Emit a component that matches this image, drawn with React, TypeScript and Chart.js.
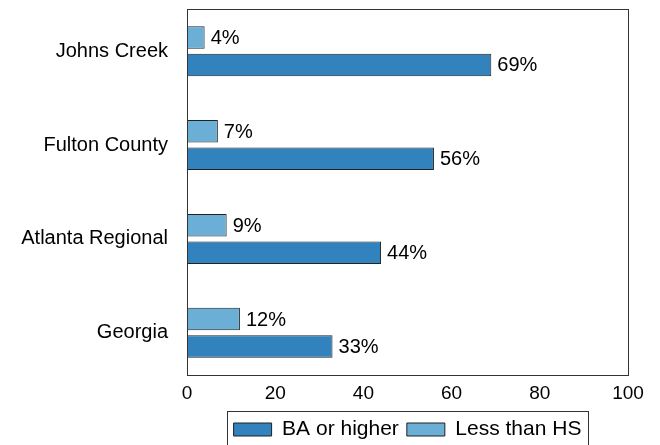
import React, { useEffect, useRef } from 'react';
import { Chart, registerables } from 'chart.js';

Chart.register(...registerables);

const categories = ['Johns Creek', 'Fulton County', 'Atlanta Regional', 'Georgia'];
const baOrHigher = [69, 56, 44, 33];
const lessThanHS = [4, 7, 9, 12];
const seriesNames = ['BA or higher', 'Less than HS'];
const xMin = 0;
const xMax = 100;
const xStep = 20;

const FONT = "'Liberation Sans', Arial, sans-serif";

const frameAndLabels = {
  id: 'frameAndLabels',
  afterDatasetsDraw(chart: any) {
    const { ctx, chartArea } = chart;
    ctx.save();
    ctx.font = `20px ${FONT}`;
    ctx.fillStyle = '#000';
    ctx.textAlign = 'left';
    ctx.textBaseline = 'middle';
    chart.data.datasets.forEach((ds: any, di: number) => {
      const meta = chart.getDatasetMeta(di);
      meta.data.forEach((el: any, i: number) => {
        const v = ds.data[i].x;
        ctx.fillText(`${v}%`, el.x + 6, el.y + 1);
      });
    });
    ctx.strokeStyle = '#333';
    ctx.lineWidth = 1;
    const l = Math.round(chartArea.left) + 0.5;
    const t = Math.round(chartArea.top) + 0.5;
    const r = Math.round(chartArea.right) + 0.5;
    const b = Math.round(chartArea.bottom) + 0.5;
    ctx.strokeRect(l, t, r - l, b - t);
    ctx.restore();
  },
  afterDraw(chart: any) {
    const lg = chart.legend;
    if (!lg || !lg.legendHitBoxes || !lg.legendHitBoxes.length) return;
    const hb = lg.legendHitBoxes;
    const first = hb[0];
    const last = hb[hb.length - 1];
    const { ctx } = chart;
    ctx.save();
    ctx.strokeStyle = '#333';
    ctx.lineWidth = 1;
    const left = Math.round(first.left - 7) + 0.5;
    const right = Math.round(last.left + last.width + 7) + 0.5;
    const top = Math.round(first.top - 8) + 0.5;
    const bottom = Math.round(first.top + first.height + 8) + 0.5;
    ctx.strokeRect(left, top, right - left, bottom - top);
    ctx.restore();
  },
};

export default function App() {
  const ref = useRef<HTMLCanvasElement | null>(null);
  useEffect(() => {
    if (!ref.current) return;
    const chart = new Chart(ref.current, {
      type: 'bar',
      data: {
        datasets: [
          {
            label: seriesNames[1],
            data: lessThanHS.map((v, i) => ({ x: v, y: i })),
            backgroundColor: '#6baed6',
            borderColor: '#222',
            borderWidth: 1,
            borderSkipped: false,
          },
          {
            label: seriesNames[0],
            data: baOrHigher.map((v, i) => ({ x: v, y: i })),
            backgroundColor: '#3182bd',
            borderColor: '#222',
            borderWidth: 1,
            borderSkipped: false,
          },
        ],
      },
      options: {
        indexAxis: 'y',
        animation: false,
        responsive: true,
        maintainAspectRatio: false,
        datasets: {
          bar: {
            categoryPercentage: 0.585,
            barPercentage: 0.82,
          },
        },
        layout: { padding: { left: 0, top: 9, right: 32, bottom: -5 } },
        font: { family: FONT, size: 20 },
        color: '#000',
        scales: {
          y: {
            type: 'linear',
            reverse: true,
            offset: false,
            min: -0.45,
            max: 3.45,
            grid: { display: false, drawTicks: false },
            border: { display: false },
            afterBuildTicks: (scale: any) => {
              scale.ticks = categories.map((_, i) => ({ value: i }));
            },
            afterFit: (scale: any) => {
              scale.width = 187;
              scale.paddingTop = 0;
              scale.paddingBottom = 0;
            },
            ticks: {
              color: '#000',
              padding: 19,
              font: { family: FONT, size: 20 },
              callback: (v: any) => categories[v as number] ?? '',
            },
          },
          x: {
            type: 'linear',
            min: xMin,
            max: xMax,
            grid: { display: false, drawTicks: false },
            border: { display: false },
            afterFit: (scale: any) => {
              scale.height = 36;
            },
            ticks: {
              stepSize: xStep,
              color: '#000',
              padding: 7,
              font: { family: FONT, size: 19 },
            },
          },
        },
        plugins: {
          tooltip: { enabled: false },
          legend: {
            position: 'bottom',
            fullSize: false,
            reverse: true,
            labels: {
              boxWidth: 38,
              boxHeight: 13,
              padding: 8,
              color: '#000',
              font: { family: FONT, size: 21 },
            },
          },
        },
      },
      plugins: [frameAndLabels],
    });
    return () => chart.destroy();
  }, []);
  return (
    <div style={{ position: 'fixed', left: 0, top: 0, width: 660, height: 445, background: '#fff' }}>
      <canvas ref={ref} />
    </div>
  );
}
